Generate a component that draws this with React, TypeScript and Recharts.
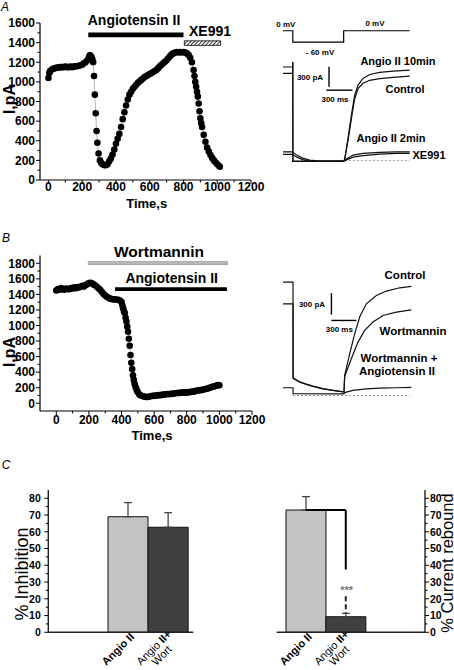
import React from 'react';
import {
  LineChart, Line, XAxis, YAxis, ReferenceArea, ReferenceLine,
  BarChart, Bar, Cell, ErrorBar,
} from 'recharts';

const FONT = '"Liberation Sans", Arial, Helvetica, sans-serif';

// ---------- Panel A: time course (s, pA) ----------
const timeA = [0, 5, 10, 20, 30, 40, 50, 60, 70, 80, 90, 100, 110, 120, 130, 140, 150, 160, 170, 180, 190, 200, 210, 220, 230, 240, 245, 250, 255, 260, 265, 270, 275, 280, 285, 290, 297, 305, 312, 320, 330, 340, 350, 360, 370, 380, 390, 400, 410, 420, 430, 440, 450, 460, 470, 480, 490, 500, 510, 520, 530, 540, 550, 560, 570, 580, 590, 600, 610, 620, 630, 640, 650, 660, 670, 680, 690, 700, 710, 720, 730, 740, 750, 760, 770, 780, 790, 800, 810, 820, 830, 840, 850, 860, 865, 870, 875, 880, 885, 890, 895, 900, 905, 910, 920, 930, 940, 950, 960, 970, 980, 990, 1000, 1010, 1015];
const currentA = [1040, 1090, 1110, 1125, 1135, 1140, 1145, 1145, 1150, 1150, 1150, 1155, 1150, 1150, 1155, 1150, 1155, 1160, 1160, 1165, 1170, 1175, 1190, 1200, 1220, 1250, 1270, 1265, 1250, 1230, 1200, 1060, 870, 680, 500, 380, 270, 200, 175, 160, 152, 150, 160, 190, 220, 260, 310, 370, 420, 470, 540, 620, 690, 760, 820, 870, 900, 930, 950, 970, 990, 1005, 1020, 1035, 1050, 1060, 1070, 1080, 1090, 1100, 1110, 1120, 1140, 1160, 1175, 1190, 1205, 1220, 1240, 1260, 1280, 1290, 1300, 1305, 1300, 1305, 1300, 1305, 1300, 1290, 1275, 1245, 1200, 1120, 1060, 1000, 950, 900, 850, 780, 700, 630, 580, 540, 460, 390, 330, 290, 255, 225, 200, 180, 160, 145, 135];
const ticksTimeA = [0, 100, 200, 300, 400, 500, 600, 700, 800, 900, 1000, 1100, 1200];
const ticksCurrentA = [0, 100, 200, 300, 400, 500, 600, 700, 800, 900, 1000, 1100, 1200, 1300, 1400, 1500, 1600];
const angioBarA = [236, 800];
const xe991BarA = [805, 1020];

// ---------- Panel B: time course (s, pA) ----------
const timeB = [0, 10, 20, 30, 40, 50, 60, 70, 80, 90, 100, 110, 120, 130, 140, 150, 160, 170, 180, 190, 200, 210, 220, 230, 240, 250, 260, 270, 280, 290, 300, 310, 320, 330, 340, 350, 360, 370, 380, 390, 400, 405, 410, 415, 420, 425, 430, 435, 440, 445, 450, 455, 460, 465, 470, 475, 480, 485, 490, 495, 500, 510, 520, 530, 540, 550, 560, 570, 580, 590, 600, 610, 620, 630, 640, 650, 660, 670, 680, 690, 700, 710, 720, 730, 740, 750, 760, 770, 780, 790, 800, 810, 820, 830, 840, 850, 860, 870, 880, 890, 900, 910, 920, 930, 940, 950, 960, 970, 980, 990, 1000];
const currentB = [1450, 1470, 1460, 1480, 1465, 1460, 1475, 1470, 1465, 1480, 1475, 1490, 1480, 1495, 1490, 1500, 1510, 1500, 1520, 1530, 1545, 1550, 1540, 1525, 1515, 1495, 1475, 1455, 1430, 1405, 1385, 1370, 1355, 1345, 1340, 1335, 1338, 1330, 1330, 1320, 1300, 1260, 1220, 1180, 1160, 1100, 1050, 985, 920, 830, 740, 620, 520, 440, 360, 300, 250, 215, 190, 160, 140, 110, 100, 90, 85, 80, 80, 85, 90, 95, 95, 100, 98, 105, 102, 110, 108, 115, 118, 115, 122, 120, 125, 128, 132, 130, 136, 134, 140, 138, 136, 145, 142, 150, 148, 155, 160, 165, 171, 168, 175, 180, 185, 190, 200, 205, 213, 215, 225, 235, 230];
const ticksTimeB = [0, 100, 200, 300, 400, 500, 600, 700, 800, 900, 1000, 1100, 1200];
const ticksCurrentB = [0, 100, 200, 300, 400, 500, 600, 700, 800, 900, 1000, 1100, 1200, 1300, 1400, 1500, 1600, 1700, 1800];
const wortBarB = [196, 1050];
const angioBarB = [360, 1046];

// ---------- Voltage protocol (ms, mV) ----------
const protocol = [
  { t: 0, mv: 0 }, { t: 113, mv: 0 }, { t: 113, mv: -60 },
  { t: 700, mv: -60 }, { t: 700, mv: 0 }, { t: 1462, mv: 0 },
];

// ---------- Panel A traces (ms, pA) ----------
const trAngio10 = [
  { t: 0, i: 1405 }, { t: 112, i: 1405 }, { t: 113, i: 1480 }, { t: 114, i: -10 }, { t: 300, i: -12 },
  { t: 700, i: -12 }, { t: 712, i: 22 }, { t: 750, i: 333 }, { t: 789, i: 683 }, { t: 827, i: 983 },
  { t: 866, i: 1133 }, { t: 923, i: 1233 }, { t: 1000, i: 1293 }, { t: 1116, i: 1323 }, { t: 1269, i: 1343 }, { t: 1462, i: 1358 },
];
const trControlA = [
  { t: 0, i: 1310 }, { t: 112, i: 1310 }, { t: 113, i: 1480 }, { t: 114, i: -10 }, { t: 700, i: -10 },
  { t: 712, i: 22 }, { t: 750, i: 300 }, { t: 789, i: 625 }, { t: 827, i: 925 }, { t: 866, i: 1080 },
  { t: 923, i: 1160 }, { t: 1000, i: 1205 }, { t: 1116, i: 1230 }, { t: 1269, i: 1250 }, { t: 1462, i: 1268 },
];
const trAngio2 = [
  { t: 0, i: 132 }, { t: 112, i: 132 }, { t: 114, i: 128 }, { t: 158, i: 83 }, { t: 227, i: 38 },
  { t: 308, i: 8 }, { t: 424, i: -8 }, { t: 700, i: -8 }, { t: 712, i: 8 }, { t: 808, i: 83 },
  { t: 923, i: 108 }, { t: 1116, i: 123 }, { t: 1309, i: 132 }, { t: 1462, i: 132 },
];
const trXE991 = [
  { t: 0, i: 93 }, { t: 112, i: 93 }, { t: 114, i: 90 }, { t: 158, i: 53 }, { t: 227, i: 15 },
  { t: 308, i: -8 }, { t: 700, i: -8 }, { t: 712, i: 0 }, { t: 808, i: 53 }, { t: 923, i: 75 },
  { t: 1116, i: 98 }, { t: 1309, i: 108 }, { t: 1462, i: 108 },
];
const scaleBarA = { t: 531, i: 1107, dt: 300, di: 300, tH: 501, iH: 1057 };
const zeroLineA = [113, 1462];

// ---------- Panel B traces (ms, pA) ----------
const trControlB = [
  { t: 0, i: 1586 }, { t: 120, i: 1586 }, { t: 121, i: 240 }, { t: 200, i: 187 }, { t: 280, i: 154 },
  { t: 360, i: 126 }, { t: 480, i: 93 }, { t: 600, i: 70 }, { t: 732, i: 47 }, { t: 740, i: 280 },
  { t: 800, i: 583 }, { t: 860, i: 863 }, { t: 920, i: 1097 }, { t: 1000, i: 1283 }, { t: 1120, i: 1400 },
  { t: 1240, i: 1461 }, { t: 1400, i: 1507 }, { t: 1540, i: 1526 },
];
const trWortB = [
  { t: 0, i: 1283 }, { t: 120, i: 1283 }, { t: 121, i: 245 }, { t: 200, i: 192 }, { t: 280, i: 158 },
  { t: 360, i: 130 }, { t: 480, i: 96 }, { t: 600, i: 72 }, { t: 732, i: 50 }, { t: 740, i: 266 },
  { t: 820, i: 513 }, { t: 900, i: 747 }, { t: 980, i: 910 }, { t: 1080, i: 1027 }, { t: 1200, i: 1120 },
  { t: 1360, i: 1167 }, { t: 1540, i: 1199 },
];
const trWortAngioB = [
  { t: 0, i: 108 }, { t: 120, i: 108 }, { t: 121, i: 25 }, { t: 732, i: 22 }, { t: 740, i: 40 },
  { t: 840, i: 70 }, { t: 1000, i: 93 }, { t: 1160, i: 103 }, { t: 1360, i: 108 }, { t: 1540, i: 112 },
];
const scaleBarB = { t: 581, i: 1132, dt: 300, di: 300, iH: 1050 };
const zeroLineB = [120, 1520];

// ---------- Panel C ----------
const categoriesC = ['Angio II', 'Angio II+ Wort'];
const inhibition = [69, 62.7];
const inhibitionErr = [8.4, 8.7];
const rebound = [73, 9.3];
const reboundErr = [8, 2];
const ticksC = [0, 5, 10, 15, 20, 25, 30, 35, 40, 45, 50, 55, 60, 65, 70, 75, 80];
const barFills = ['#c3c3c3', '#404040'];
const bracket = { top: 73, bottom: 37.5, dashTop: 21.5, dashBottom: 11.3 };

const dataA = timeA.map((t, k) => ({ t, v: currentA[k] }));
const dataB = timeB.map((t, k) => ({ t, v: currentB[k] }));
const dataC1 = categoriesC.map((c, k) => ({ cat: c, v: inhibition[k], err: [0, inhibitionErr[k]] }));
const dataC2 = categoriesC.map((c, k) => ({ cat: c, v: rebound[k], err: [0, reboundErr[k]] }));

const axisStyle = { stroke: '#000', strokeWidth: 1.2 };

function leftTick(major: number, fs: number, gap: number) {
  return (p: any) => {
    const v = Number(p.payload.value);
    const isMaj = Math.abs(v % major) < 1e-6;
    return (
      <g>
        <line x1={p.x - (isMaj ? 4 : 2.5)} x2={p.x} y1={p.y} y2={p.y} stroke="#000" strokeWidth={1} />
        {isMaj ? (
          <text x={p.x - gap} y={p.y} dy="0.36em" textAnchor="end" fontSize={fs} fontFamily={FONT} fontWeight={700} fill="#000">{v}</text>
        ) : null}
      </g>
    );
  };
}
function rightTick(major: number, fs: number, gap: number) {
  return (p: any) => {
    const v = Number(p.payload.value);
    const isMaj = Math.abs(v % major) < 1e-6;
    return (
      <g>
        <line x1={p.x} x2={p.x + (isMaj ? 4 : 2.5)} y1={p.y} y2={p.y} stroke="#000" strokeWidth={1} />
        {isMaj ? (
          <text x={p.x + gap} y={p.y} dy="0.36em" textAnchor="start" fontSize={fs} fontFamily={FONT} fontWeight={700} fill="#000">{v}</text>
        ) : null}
      </g>
    );
  };
}
function bottomTick(major: number, fs: number, gap: number) {
  return (p: any) => {
    const v = Number(p.payload.value);
    const isMaj = Math.abs(v % major) < 1e-6;
    return (
      <g>
        <line x1={p.x} x2={p.x} y1={p.y} y2={p.y + (isMaj ? 4 : 2.5)} stroke="#000" strokeWidth={1} />
        {isMaj ? (
          <text x={p.x} y={p.y + gap} dy="0.36em" textAnchor="middle" fontSize={fs} fontFamily={FONT} fontWeight={700} fill="#000">{v}</text>
        ) : null}
      </g>
    );
  };
}
const catTick = (p: any) => {
  const v = p.payload.value;
  const fs = 11;
  if (v === categoriesC[0]) {
    return (
      <g transform={`translate(${p.x},${p.y}) rotate(-45)`}>
        <text x={1} y={8.5} textAnchor="end" fontSize={fs} fontFamily={FONT} fontWeight={700} fill="#000">Angio II</text>
      </g>
    );
  }
  return (
    <g transform={`translate(${p.x},${p.y}) rotate(-45)`}>
      <text x={-21} y={4.5} textAnchor="middle" fontSize={fs} fontFamily={FONT} fill="#000">
        <tspan>Angio </tspan><tspan fontWeight={700}>II+</tspan>
      </text>
      <text x={-21} y={15.5} textAnchor="middle" fontSize={fs} fontFamily={FONT} fill="#000">Wort</text>
    </g>
  );
};

const Txt = ({ x, y, children, size = 11, bold = true, italic = false, rotate = 0, color = '#000' }: any) => (
  <div style={{
    position: 'absolute', left: x, top: y, transform: `translate(-50%,-50%) rotate(${rotate}deg)`,
    fontSize: size, fontWeight: bold ? 700 : 400, fontStyle: italic ? 'italic' : 'normal',
    fontFamily: FONT, whiteSpace: 'nowrap', lineHeight: 1, color,
  }}>{children}</div>
);

const dotStyle = { r: 3.3, fill: '#000', stroke: 'none' };

export default function App() {
  return (
    <div style={{ position: 'absolute', left: 0, top: 0, width: 454, height: 670, background: '#fff', overflow: 'hidden' }}>
      <svg width={0} height={0} style={{ position: 'absolute' }}>
        <defs>
          <pattern id="hatch" width={2.6} height={2.6} patternUnits="userSpaceOnUse" patternTransform="rotate(45)">
            <rect width={2.6} height={2.6} fill="#fff" />
            <line x1={0} y1={0} x2={0} y2={2.6} stroke="#000" strokeWidth={1.5} />
          </pattern>
        </defs>
      </svg>

      {/* Panel A time course */}
      <div style={{ position: 'absolute', left: 0, top: 0 }}>
        <LineChart width={276} height={200} data={dataA} margin={{ top: 23, right: 25, bottom: 0, left: 0 }}>
          <XAxis type="number" dataKey="t" domain={[-50, 1200]} ticks={ticksTimeA} interval={0} allowDataOverflow height={20}
            tickSize={0} tickMargin={0} tickLine={false} axisLine={axisStyle} tick={bottomTick(200, 12, 6.7)} />
          <YAxis type="number" domain={[0, 1600]} ticks={ticksCurrentA} interval={0} allowDataOverflow width={40}
            tickSize={0} tickMargin={0} tickLine={false} axisLine={axisStyle} tick={leftTick(200, 12, 5)} />
          <ReferenceArea x1={angioBarA[0]} x2={angioBarA[1]} y1={1454} y2={1502} fill="#000" fillOpacity={1} stroke="none" />
          <ReferenceArea x1={xe991BarA[0]} x2={xe991BarA[1]} y1={1372} y2={1418} fill="url(#hatch)" fillOpacity={1} stroke="#000" strokeWidth={0.8} />
          <Line type="linear" dataKey="v" stroke="#999" strokeWidth={0.7} dot={dotStyle} activeDot={false} isAnimationActive={false} />
        </LineChart>
      </div>

      {/* Panel B time course */}
      <div style={{ position: 'absolute', left: 0, top: 235 }}>
        <LineChart width={276} height={196} data={dataB} margin={{ top: 20.5, right: 24, bottom: 0, left: 0 }}>
          <XAxis type="number" dataKey="t" domain={[-100, 1200]} ticks={ticksTimeB} interval={0} allowDataOverflow height={20}
            tickSize={0} tickMargin={0} tickLine={false} axisLine={axisStyle} tick={bottomTick(200, 12, 9)} />
          <YAxis type="number" domain={[-100, 1900]} ticks={ticksCurrentB} interval={0} allowDataOverflow width={40}
            tickSize={0} tickMargin={0} tickLine={false} axisLine={axisStyle} tick={leftTick(200, 12, 5)} />
          <ReferenceArea x1={wortBarB[0]} x2={wortBarB[1]} y1={1782} y2={1824} fill="#b8b8b8" fillOpacity={1} stroke="#8a8a8a" strokeWidth={0.6} />
          <ReferenceArea x1={angioBarB[0]} x2={angioBarB[1]} y1={1445} y2={1493} fill="#000" fillOpacity={1} stroke="none" />
          <Line type="linear" dataKey="v" stroke="#999" strokeWidth={0.7} dot={dotStyle} activeDot={false} isAnimationActive={false} />
        </LineChart>
      </div>

      {/* Voltage protocol */}
      <div style={{ position: 'absolute', left: 283.3, top: 27.2 }}>
        <LineChart width={130} height={18.8} data={protocol} margin={{ top: 0, right: 0, bottom: 0, left: 0 }}>
          <XAxis type="number" dataKey="t" domain={[0, 1500]} hide allowDataOverflow />
          <YAxis type="number" domain={[-80, 20]} hide allowDataOverflow />
          <Line type="linear" dataKey="mv" stroke="#000" strokeWidth={1.2} dot={false} activeDot={false} isAnimationActive={false} />
        </LineChart>
      </div>

      {/* Panel A traces */}
      <div style={{ position: 'absolute', left: 283.3, top: 53.8 }}>
        <LineChart width={130} height={113.3} margin={{ top: 0, right: 0, bottom: 0, left: 0 }}>
          <XAxis type="number" dataKey="t" domain={[0, 1500]} hide allowDataOverflow />
          <YAxis type="number" domain={[-100, 1600]} hide allowDataOverflow />
          <ReferenceLine segment={[{ x: zeroLineA[0], y: 0 }, { x: zeroLineA[1], y: 0 }]} stroke="#999" strokeDasharray="2 2" strokeWidth={1} />
          <ReferenceLine segment={[{ x: scaleBarA.t, y: scaleBarA.i }, { x: scaleBarA.t, y: scaleBarA.i + scaleBarA.di }]} stroke="#000" strokeWidth={1.4} />
          <ReferenceLine segment={[{ x: scaleBarA.tH, y: scaleBarA.iH }, { x: scaleBarA.tH + scaleBarA.dt, y: scaleBarA.iH }]} stroke="#000" strokeWidth={1.4} />
          <Line data={trAngio2} type="linear" dataKey="i" stroke="#111" strokeWidth={1.2} dot={false} activeDot={false} isAnimationActive={false} />
          <Line data={trXE991} type="linear" dataKey="i" stroke="#111" strokeWidth={1.2} dot={false} activeDot={false} isAnimationActive={false} />
          <Line data={trControlA} type="linear" dataKey="i" stroke="#111" strokeWidth={1.2} dot={false} activeDot={false} isAnimationActive={false} />
          <Line data={trAngio10} type="linear" dataKey="i" stroke="#111" strokeWidth={1.2} dot={false} activeDot={false} isAnimationActive={false} />
        </LineChart>
      </div>

      {/* Panel B traces */}
      <div style={{ position: 'absolute', left: 283.3, top: 273.6 }}>
        <LineChart width={130} height={128.6} margin={{ top: 0, right: 0, bottom: 0, left: 0 }}>
          <XAxis type="number" dataKey="t" domain={[0, 1560]} hide allowDataOverflow />
          <YAxis type="number" domain={[-100, 1700]} hide allowDataOverflow />
          <ReferenceLine segment={[{ x: zeroLineB[0], y: 0 }, { x: zeroLineB[1], y: 0 }]} stroke="#999" strokeDasharray="2 2" strokeWidth={1} />
          <ReferenceLine segment={[{ x: scaleBarB.t, y: scaleBarB.i }, { x: scaleBarB.t, y: scaleBarB.i + scaleBarB.di }]} stroke="#000" strokeWidth={1.4} />
          <ReferenceLine segment={[{ x: scaleBarB.t, y: scaleBarB.iH }, { x: scaleBarB.t + scaleBarB.dt, y: scaleBarB.iH }]} stroke="#000" strokeWidth={1.4} />
          <Line data={trWortAngioB} type="linear" dataKey="i" stroke="#111" strokeWidth={1.2} dot={false} activeDot={false} isAnimationActive={false} />
          <Line data={trWortB} type="linear" dataKey="i" stroke="#111" strokeWidth={1.2} dot={false} activeDot={false} isAnimationActive={false} />
          <Line data={trControlB} type="linear" dataKey="i" stroke="#111" strokeWidth={1.2} dot={false} activeDot={false} isAnimationActive={false} />
        </LineChart>
      </div>

      {/* Panel C left */}
      <div style={{ position: 'absolute', left: 0, top: 480 }}>
        <BarChart width={200} height={190} data={dataC1} margin={{ top: 9.9, right: 6.7, bottom: 0, left: 0 }} barCategoryGap={0}>
          <XAxis dataKey="cat" type="category" height={37.7} padding={{ left: 59.7, right: 5 }} interval={0}
            tickSize={0} tickMargin={0} tickLine={false} axisLine={{ stroke: '#222', strokeWidth: 1.4 }} tick={catTick} />
          <YAxis type="number" domain={[0, 85]} ticks={ticksC} interval={0} allowDataOverflow width={48.3}
            tickSize={0} tickMargin={0} tickLine={false} axisLine={{ stroke: '#222', strokeWidth: 1.4 }} tick={leftTick(10, 10.5, 7.5)} />
          <Bar dataKey="v" stroke="#111" strokeWidth={1} isAnimationActive={false}>
            {dataC1.map((d, k) => <Cell key={d.cat} fill={barFills[k]} />)}
            <ErrorBar dataKey="err" direction="y" width={4} stroke="#444" strokeWidth={1.3} />
          </Bar>
        </BarChart>
      </div>

      {/* Panel C right */}
      <div style={{ position: 'absolute', left: 250, top: 480 }}>
        <BarChart width={204} height={190} data={dataC2} margin={{ top: 9.9, right: 0, bottom: 0, left: 26.7 }} barCategoryGap={0}>
          <XAxis dataKey="cat" type="category" height={37.7} padding={{ left: 9.3, right: 59.3 }} interval={0}
            tickSize={0} tickMargin={0} tickLine={false} axisLine={{ stroke: '#222', strokeWidth: 1.4 }} tick={catTick} />
          <YAxis type="number" orientation="right" domain={[0, 85]} ticks={ticksC} interval={0} allowDataOverflow width={29}
            tickSize={0} tickMargin={0} tickLine={false} axisLine={{ stroke: '#222', strokeWidth: 1.4 }} tick={rightTick(10, 10.5, 5)} />
          <Bar dataKey="v" stroke="#111" strokeWidth={1} isAnimationActive={false}>
            {dataC2.map((d, k) => <Cell key={d.cat} fill={barFills[k]} />)}
            <ErrorBar dataKey="err" direction="y" width={4} stroke="#444" strokeWidth={1.3} />
          </Bar>
          <ReferenceLine segment={[{ x: categoriesC[0], y: bracket.top }, { x: categoriesC[1], y: bracket.top }]} stroke="#000" strokeWidth={2} />
          <ReferenceLine segment={[{ x: categoriesC[1], y: bracket.top }, { x: categoriesC[1], y: bracket.bottom }]} stroke="#000" strokeWidth={2} />
          <ReferenceLine segment={[{ x: categoriesC[1], y: bracket.dashTop }, { x: categoriesC[1], y: bracket.dashBottom }]} stroke="#222" strokeWidth={2} strokeDasharray="5 3" />
        </BarChart>
      </div>

      {/* Text */}
      <Txt x={5} y={7} size={12} bold={false} italic>A</Txt>
      <Txt x={134} y={20} size={14}>Angiotensin II</Txt>
      <Txt x={210} y={31} size={14}>XE991</Txt>
      <Txt x={9.5} y={99} size={16} rotate={-90}>I,pA</Txt>
      <Txt x={146.7} y={203} size={13}>Time,s</Txt>

      <Txt x={285.8} y={25} size={8}>0 mV</Txt>
      <Txt x={375} y={24.3} size={8}>0 mV</Txt>
      <Txt x={320} y={52.7} size={8}>- 60 mV</Txt>
      <Txt x={310} y={77.7} size={8}>300 pA</Txt>
      <Txt x={335} y={100} size={8}>300 ms</Txt>
      <Txt x={398} y={61} size={11}>Angio II 10min</Txt>
      <Txt x={405} y={89} size={11}>Control</Txt>
      <Txt x={391} y={138} size={11}>Angio II 2min</Txt>
      <Txt x={429} y={155} size={11}>XE991</Txt>

      <Txt x={6} y={238} size={12} bold={false} italic>B</Txt>
      <Txt x={159} y={251.7} size={15.5}>Wortmannin</Txt>
      <Txt x={171.7} y={278.3} size={14}>Angiotensin II</Txt>
      <Txt x={10} y={351.5} size={16} rotate={-90}>I,pA</Txt>
      <Txt x={152} y={435} size={13}>Time,s</Txt>
      <Txt x={312} y={305} size={8}>300 pA</Txt>
      <Txt x={339.3} y={330} size={8}>300 ms</Txt>
      <Txt x={405} y={276} size={11.5}>Control</Txt>
      <Txt x={413} y={331.7} size={11.5}>Wortmannin</Txt>
      <Txt x={399} y={359} size={11.5}>Wortmannin +</Txt>
      <Txt x={397} y={371.7} size={11.5}>Angiotensin II</Txt>

      <Txt x={6} y={465} size={12} bold={false} italic>C</Txt>
      <Txt x={21.5} y={574} size={18} bold={false} rotate={-90}>% Inhibition</Txt>
      <Txt x={446.7} y={563} size={16.5} bold={false} rotate={-90}>% Current rebound</Txt>
      <Txt x={346.7} y={590} size={11} color="#777">***</Txt>
    </div>
  );
}
